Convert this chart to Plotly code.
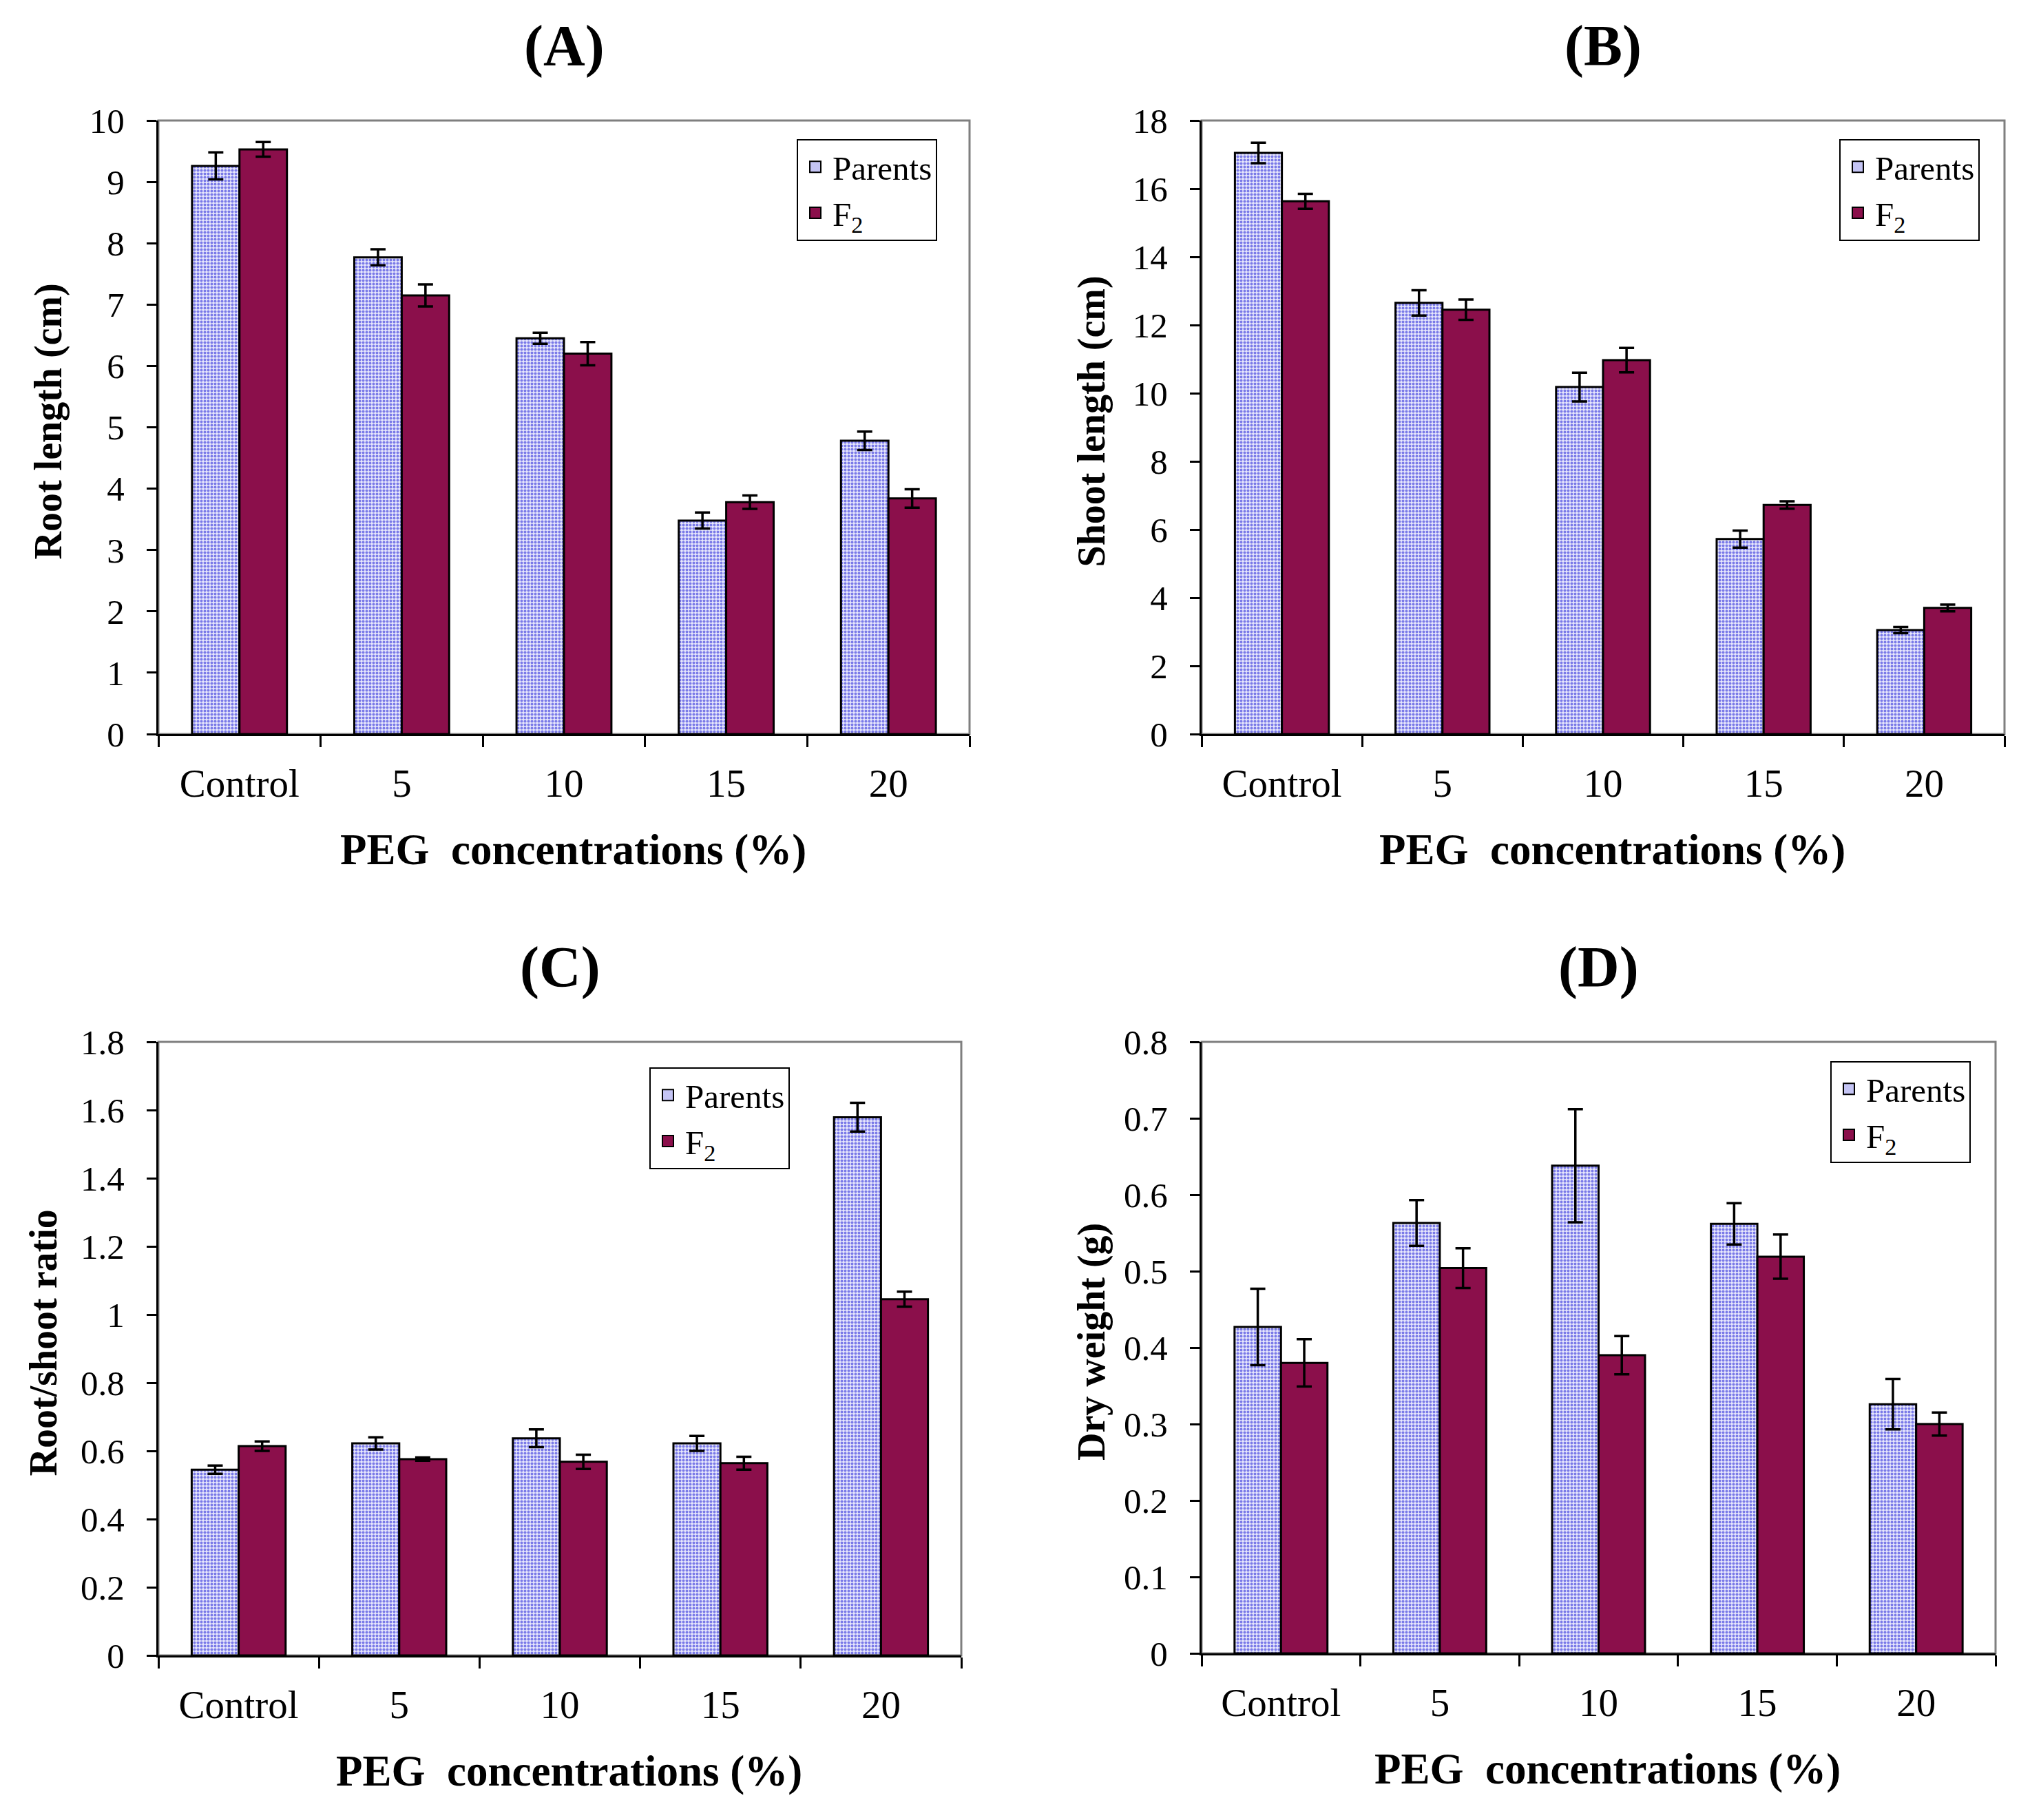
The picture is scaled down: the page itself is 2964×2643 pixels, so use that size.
import plotly.graph_objects as go

categories = ["Control", "5", "10", "15", "20"]
series_names = ["Parents", "F<sub>2</sub>"]

# (A) Root length (cm)
root_parents = [9.26, 7.77, 6.45, 3.48, 4.78]
root_parents_err = [0.22, 0.13, 0.09, 0.13, 0.15]
root_f2 = [9.53, 7.15, 6.20, 3.78, 3.84]
root_f2_err = [0.12, 0.18, 0.19, 0.11, 0.15]

# (B) Shoot length (cm)
shoot_parents = [17.05, 12.65, 10.18, 5.72, 3.05]
shoot_parents_err = [0.30, 0.37, 0.42, 0.25, 0.09]
shoot_f2 = [15.63, 12.45, 10.97, 6.72, 3.70]
shoot_f2_err = [0.22, 0.30, 0.36, 0.11, 0.10]

# (C) Root/shoot ratio
ratio_parents = [0.545, 0.622, 0.637, 0.622, 1.579]
ratio_parents_err = [0.012, 0.018, 0.026, 0.022, 0.042]
ratio_f2 = [0.614, 0.576, 0.568, 0.564, 1.045]
ratio_f2_err = [0.014, 0.005, 0.021, 0.019, 0.022]

# (D) Dry weight (g)
dry_parents = [0.427, 0.563, 0.638, 0.562, 0.326]
dry_parents_err = [0.050, 0.030, 0.074, 0.027, 0.033]
dry_f2 = [0.380, 0.504, 0.390, 0.519, 0.300]
dry_f2_err = [0.031, 0.026, 0.025, 0.029, 0.015]

panel_titles = ["(A)", "(B)", "(C)", "(D)"]
y_titles = ["Root length (cm)", "Shoot length (cm)", "Root/shoot ratio", "Dry weight (g)"]
x_title = "PEG  concentrations (%)"
y_ranges = [[0, 10], [0, 18], [0, 1.8], [0, 0.8]]
y_dticks = [1, 2, 0.2, 0.1]

FONT = "Liberation Serif"
W, H = 2964, 2643
PARENT_FG = "#7a7ae8"
PARENT_BG = "#e6e6fc"
PARENT_LEGEND = "#c4c4f4"
F2_COLOR = "#8b0f4b"

data = [
    (root_parents, root_parents_err, root_f2, root_f2_err),
    (shoot_parents, shoot_parents_err, shoot_f2, shoot_f2_err),
    (ratio_parents, ratio_parents_err, ratio_f2, ratio_f2_err),
    (dry_parents, dry_parents_err, dry_f2, dry_f2_err),
]

# plot-area pixel boxes (x0, x1, y_top, y_bottom)
boxes = [
    (230, 1408, 175, 1066),
    (1745, 2911, 175, 1066),
    (230, 1396, 1513, 2404),
    (1745, 2898, 1513, 2401),
]
ytitle_dx = [160, 160, 168, 160]
legend_pos = [(1157, 202), (2671, 202), (943, 1550), (2658, 1541)]

fig = go.Figure()
layout = dict(
    width=W, height=H, margin=dict(l=0, r=0, t=0, b=0, autoexpand=False),
    paper_bgcolor="white", plot_bgcolor="white",
    barmode="group", bargap=0.415, bargroupgap=0,
    font=dict(family=FONT, color="black"),
    showlegend=True,
)
annotations = []
shapes = []

for i in range(4):
    sfx = "" if i == 0 else str(i + 1)
    xa, ya = "x" + sfx, "y" + sfx
    lg = "legend" + sfx
    p, pe, f, fe = data[i]
    fig.add_trace(go.Bar(
        x=categories, y=p, name=series_names[0], xaxis=xa, yaxis=ya, showlegend=False,
        marker=dict(color=PARENT_BG, line=dict(color="black", width=3),
                    pattern=dict(shape=".", fgcolor=PARENT_FG, bgcolor=PARENT_BG,
                                 size=5, solidity=0.5, fillmode="replace")),
        error_y=dict(type="data", array=pe, color="black", thickness=3.5, width=11),
    ))
    fig.add_trace(go.Bar(
        x=categories, y=f, name=series_names[1], xaxis=xa, yaxis=ya, showlegend=False,
        marker=dict(color=F2_COLOR, line=dict(color="black", width=3)),
        error_y=dict(type="data", array=fe, color="black", thickness=3.5, width=11),
    ))
    # legend entries (larger square swatches, like the original)
    for name, col in zip(series_names, [PARENT_LEGEND, F2_COLOR]):
        fig.add_trace(go.Scatter(
            x=[None], y=[None], mode="markers", name=name, xaxis=xa, yaxis=ya,
            legend=lg, hoverinfo="skip",
            marker=dict(symbol="square", size=16, color=col,
                        line=dict(color="black", width=2)),
        ))
    x0, x1, yt, yb = boxes[i]
    xd = [x0 / W, x1 / W]
    yd = [1 - yb / H, 1 - yt / H]
    layout["xaxis" + sfx] = dict(
        domain=xd, anchor=ya, type="category", showgrid=False, zeroline=False,
        showline=True, linecolor="black", linewidth=3,
        ticks="outside", tickson="boundaries", ticklen=16, tickwidth=3, tickcolor="black",
        tickfont=dict(family=FONT, size=57, color="black"), ticklabelstandoff=20,
    )
    layout["yaxis" + sfx] = dict(
        domain=yd, anchor=xa, range=y_ranges[i], dtick=y_dticks[i], tick0=0,
        showgrid=False, zeroline=False,
        showline=True, linecolor="black", linewidth=3,
        ticks="outside", ticklen=14, tickwidth=3, tickcolor="black",
        tickfont=dict(family=FONT, size=51, color="black"), ticklabelstandoff=22,
    )
    lx, ly = legend_pos[i]
    layout[lg] = dict(
        x=lx / W, y=1 - ly / H, xanchor="left", yanchor="top",
        xref="paper", yref="paper",
        bgcolor="white", bordercolor="black", borderwidth=2,
        font=dict(family=FONT, size=49, color="black"),
        itemwidth=40, itemsizing="trace", tracegroupgap=0,
    )
    # gray frame (top/right)
    shapes.append(dict(type="rect", xref=xa + " domain", yref=ya + " domain",
                       x0=0, x1=1, y0=0, y1=1, layer="below",
                       line=dict(color="#7f7f7f", width=3)))
    cx = (x0 + x1) / 2 / W
    annotations.append(dict(text="<b>" + panel_titles[i] + "</b>", xref="paper", yref="paper",
                            x=cx, y=1 - (yt - 108) / H, xanchor="center", yanchor="middle",
                            showarrow=False, font=dict(family=FONT, size=84, color="black")))
    annotations.append(dict(text="<b>" + x_title + "</b>", xref="paper", yref="paper",
                            x=cx + 0.0045, y=1 - (yb + 168) / H, xanchor="center", yanchor="middle",
                            showarrow=False, font=dict(family=FONT, size=63, color="black")))
    annotations.append(dict(text="<b>" + y_titles[i] + "</b>", xref="paper", yref="paper",
                            x=(x0 - ytitle_dx[i]) / W, y=1 - ((yt + yb) / 2 - 8) / H,
                            xanchor="center", yanchor="middle", textangle=-90,
                            showarrow=False, font=dict(family=FONT, size=56, color="black")))

layout["annotations"] = annotations
layout["shapes"] = shapes
fig.update_layout(**layout)
fig.write_html("out.html")
